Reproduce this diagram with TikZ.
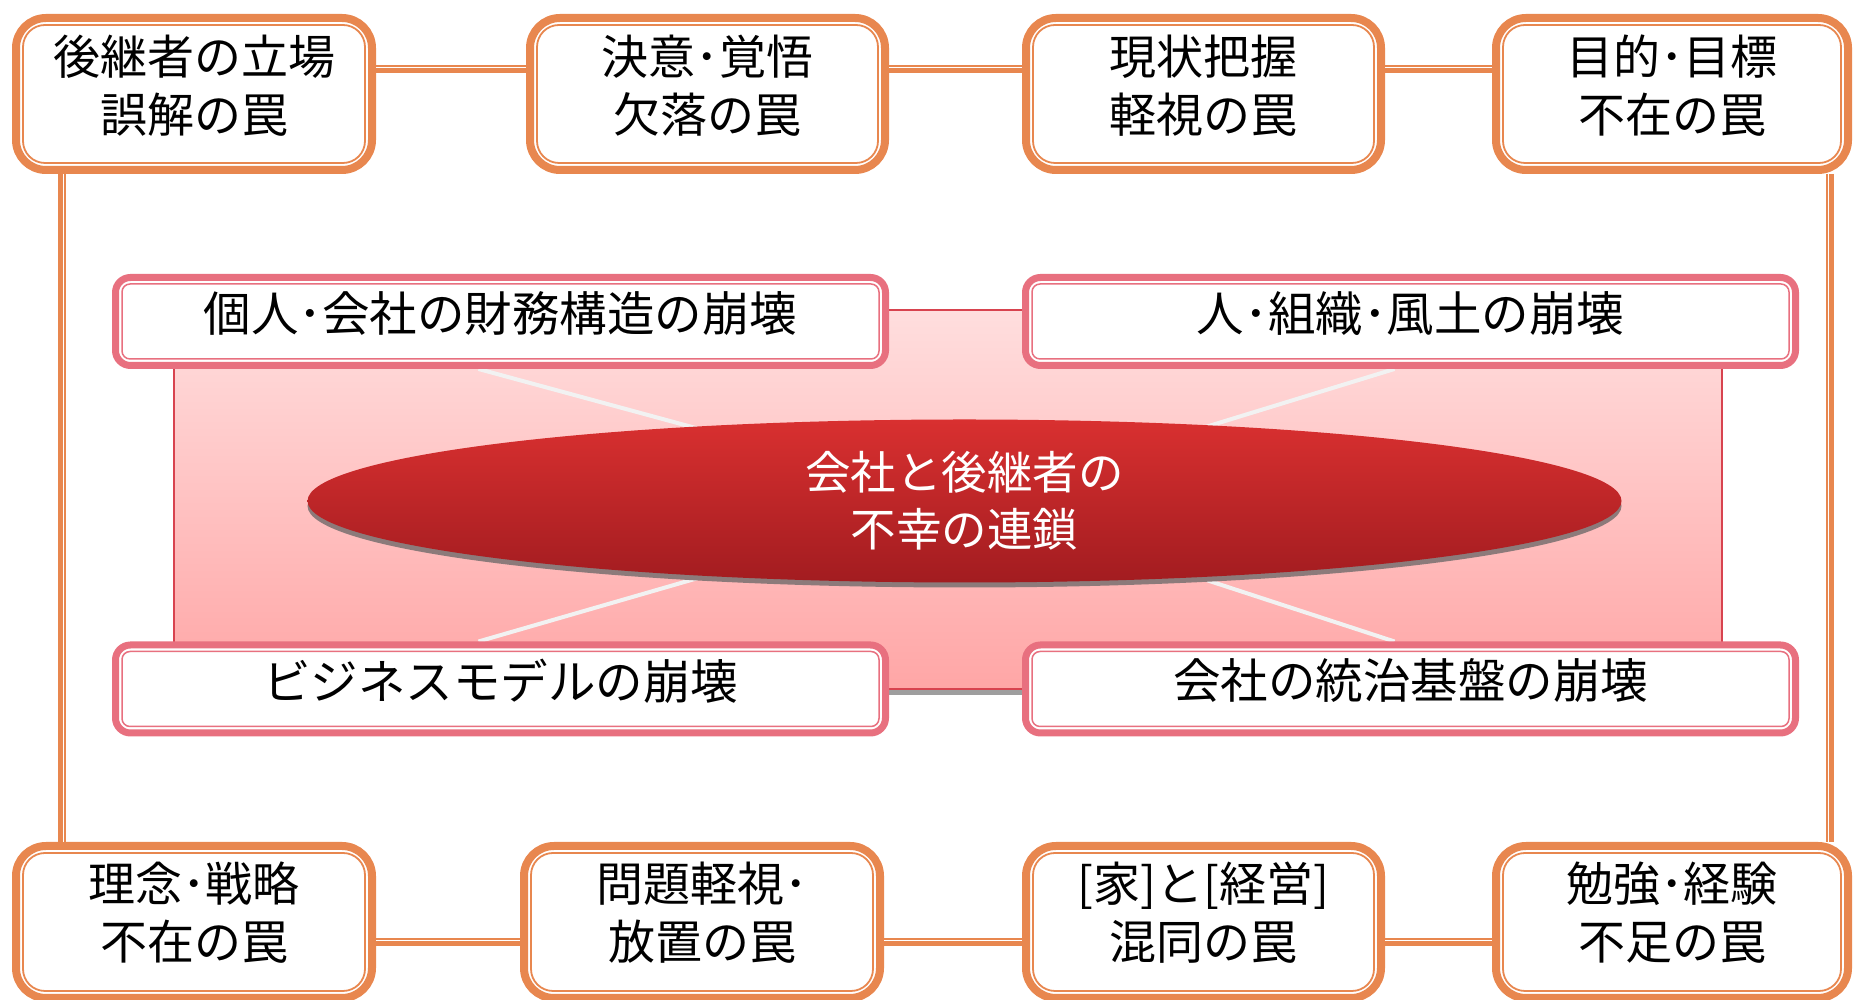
\documentclass[tikz,border=0pt]{standalone}
\usepackage{fontspec}
\setmainfont{Noto Sans CJK JP}
\usetikzlibrary{shapes.geometric}
\pgfdeclarelayer{bg}
\pgfsetlayers{bg,main}
\definecolor{trapor}{HTML}{E8874F}
\definecolor{collpk}{HTML}{E8707F}
\definecolor{bgtop}{HTML}{FFDEDE}
\definecolor{bgbot}{HTML}{FFA6A6}
\definecolor{bgline}{HTML}{D8434F}
\definecolor{elltop}{HTML}{D93030}
\definecolor{ellbot}{HTML}{A21C20}
\definecolor{ellshadow}{HTML}{8C7A7A}
\definecolor{rectshadow}{HTML}{9E9E9E}
\definecolor{spokec}{HTML}{F2F2F2}
\begin{document}
\begin{tikzpicture}[x=1pt,y=1pt,
  trapbox/.style={draw=trapor, line width=8pt, rounded corners=30pt, fill=white,
    minimum height=152pt, inner sep=0pt},
  traptxt/.style={font=\fontsize{47}{58}\selectfont, align=center, yshift=8pt, inner sep=0pt},
  trapinner/.style={draw=trapor, line width=1.8pt, rounded corners=22pt},
  collbox/.style={draw=collpk, line width=7pt, rounded corners=15pt, fill=white,
    minimum width=770pt, minimum height=88pt, inner sep=0pt},
  colltxt/.style={font=\fontsize{47.5}{56}\selectfont, yshift=8pt, inner sep=0pt},
  collinner/.style={draw=collpk, line width=1.5pt, rounded corners=8pt},
  hconn/.style={draw=trapor, line width=8pt,
    postaction={draw=white, line width=1.4pt, transform canvas={yshift=1.5pt}}},
  vconn/.style={draw=trapor, line width=8pt,
    postaction={draw=white, line width=1.4pt, transform canvas={xshift=#1}}},
  spoke/.style={draw=spokec, line width=4pt},
  corebox/.style={ellipse, minimum width=1314pt, minimum height=163pt, inner sep=0pt,
    top color=elltop, bottom color=ellbot, text=white, align=center,
    font=\fontsize{45.5}{57}\selectfont}
]
\useasboundingbox (0,0) rectangle (1853,1000);

% top row of traps
\node[trapbox, minimum width=356pt, label={[traptxt]center:後継者の立場\\誤解の罠}] (b1) at (194,906) {};
\node[trapbox, minimum width=355pt, label={[traptxt]center:決意･覚悟\\欠落の罠}] (b2) at (707.5,906) {};
\node[trapbox, minimum width=355pt, label={[traptxt]center:現状把握\\軽視の罠}] (b3) at (1203.5,906) {};
\node[trapbox, minimum width=352pt, label={[traptxt]center:目的･目標\\不在の罠}] (b4) at (1672,906) {};
% bottom row of traps
\node[trapbox, minimum width=356pt, label={[traptxt,yshift=1pt]center:理念･戦略\\不在の罠}] (b5) at (194,78) {};
\node[trapbox, minimum width=356pt, label={[traptxt,yshift=1pt]center:問題軽視･\\放置の罠}] (b6) at (702,78) {};
\node[trapbox, minimum width=355pt, label={[traptxt,yshift=1pt]center:[家]と[経営]\\混同の罠}] (b7) at (1203.5,78) {};
\node[trapbox, minimum width=352pt, label={[traptxt,yshift=1pt]center:勉強･経験\\不足の罠}] (b8) at (1672,78) {};

\foreach \n in {b1,b2,b3,b4,b5,b6,b7,b8}
  \draw[trapinner] ([shift={(11pt,-11pt)}]\n.north west) rectangle ([shift={(-11pt,11pt)}]\n.south east);

% connectors between traps
\draw[hconn] ([yshift=25pt]b1.east) -- ([yshift=25pt]b2.west);
\draw[hconn] ([yshift=25pt]b2.east) -- ([yshift=25pt]b3.west);
\draw[hconn] ([yshift=25pt]b3.east) -- ([yshift=25pt]b4.west);
\draw[hconn] ([yshift=-20pt]b5.east) -- ([yshift=-20pt]b6.west);
\draw[hconn] ([yshift=-20pt]b6.east) -- ([yshift=-20pt]b7.west);
\draw[hconn] ([yshift=-20pt]b7.east) -- ([yshift=-20pt]b8.west);
\draw[vconn=1.5pt] ([xshift=-132pt]b1.south) -- ([xshift=-132pt]b5.north);
\draw[vconn=-1.5pt] ([xshift=158pt]b4.south) -- ([xshift=158pt]b8.north);

% collapse boxes
\node[collbox, label={[colltxt]center:個人･会社の財務構造の崩壊}] (p1) at (500.5,678.5) {};
\node[collbox, label={[colltxt]center:人･組織･風土の崩壊}] (p2) at (1410.5,678.5) {};
\node[collbox, label={[colltxt]center:ビジネスモデルの崩壊}] (p3) at (500.5,311) {};
\node[collbox, label={[colltxt]center:会社の統治基盤の崩壊}] (p4) at (1410.5,311) {};
\foreach \n in {p1,p2,p3,p4}
  \draw[collinner] ([shift={(10pt,-10pt)}]\n.north west) rectangle ([shift={(-10pt,10pt)}]\n.south east);

% central ellipse
\node[corebox] (core) at (964.5,499) {会社と後継者の\\不幸の連鎖};

\begin{pgfonlayer}{bg}
  \fill[rectshadow] (174,305) rectangle (1722,311);
  \draw[draw=bgline, line width=1.2pt, top color=bgtop, bottom color=bgbot] (174,311) rectangle (1722,690);
  \draw[spoke] ([xshift=-22pt]p1.south) -- (core.center);
  \draw[spoke] ([xshift=-16pt]p2.south) -- (core.center);
  \draw[spoke] ([xshift=-22pt]p3.north) -- (core.center);
  \draw[spoke] ([xshift=-16pt]p4.north) -- (core.center);
  \fill[ellshadow] ([yshift=-5pt]core.center) ellipse (657 and 81.5);
\end{pgfonlayer}
\end{tikzpicture}
\end{document}
